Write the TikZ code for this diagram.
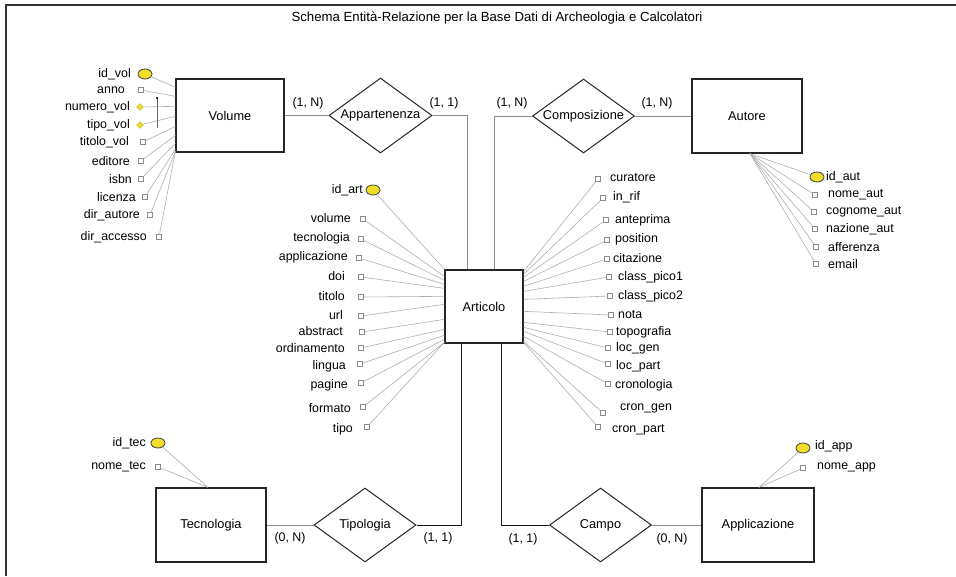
\documentclass[tikz,border=0pt]{standalone}
\usepackage{fontspec}
\setmainfont{Liberation Sans}
\usetikzlibrary{shapes.geometric, calc}

\definecolor{keyyel}{RGB}{240,222,40}
\definecolor{lnkgray}{RGB}{175,175,175}

\tikzset{
  ent/.style={draw=black!85, line width=1.3pt, minimum height=73pt, inner sep=0pt, font=\fontsize{12.8}{14}\selectfont},
  rel/.style={diamond, aspect=1.37, draw=black!85, line width=1pt, minimum width=102pt, minimum height=74pt, inner sep=0pt, font=\fontsize{12.8}{14}\selectfont},
  attr/.style={draw=black!45, fill=white, minimum size=5.5pt, inner sep=0pt, line width=0.6pt},
  pkey/.style={ellipse, draw=black!75, fill=keyyel, minimum width=14pt, minimum height=10pt, inner sep=0pt, line width=0.8pt},
  ckey/.style={diamond, fill=keyyel, draw=keyyel!80!black, minimum size=7pt, inner sep=0pt},
  lbl/.style={inner sep=0pt, font=\fontsize{12.4}{14}\selectfont},
  card/.style={inner sep=0pt, font=\fontsize{12.4}{14}\selectfont},
  lnk/.style={draw=lnkgray, line width=0.6pt},
  glink/.style={draw=black!45, line width=0.9pt},
  blink/.style={draw=black!90, line width=1pt}
}

\begin{document}
\begin{tikzpicture}[x=1pt, y=-1pt]
\useasboundingbox (0,0) rectangle (956,576);
\draw[line width=1.6pt, black!80] (956,5) -- (6,5) -- (6,576);
\node[lbl, font=\fontsize{13.2}{15}\selectfont] (title) at (497,18) {Schema Entità-Relazione per la Base Dati di Archeologia e Calcolatori};

% entities
\node[ent, minimum width=108pt] (vol) at (230,115.5) {Volume};
\node[ent, minimum width=78pt] (art) at (484,306.5) {Articolo};
\node[ent, minimum width=110pt, minimum height=74pt] (aut) at (747,116) {Autore};
\node[ent, minimum width=110pt, minimum height=74pt] (tec) at (211,525) {Tecnologia};
\node[ent, minimum width=112pt, minimum height=74pt] (app) at (758,525) {Applicazione};

% relationships
\node[rel, minimum width=103pt, minimum height=75pt] (appart) at (380.5,115.5) {Appartenenza};
\node[rel] (compo) at (583.5,116) {Composizione};
\node[rel] (tipol) at (365,525) {Tipologia};
\node[rel] (campo) at (600.5,525) {Campo};

\draw[glink] (vol.east) -- (appart.west);
\draw[glink] (appart.east) -| ($(art.north west)+(23,0)$);
\draw[glink] (compo.west) -| ($(art.north west)+(50,0)$);
\draw[glink] (compo.east) -- (aut.west);
\draw[glink] (tec.east) -- (tipol.west);
\draw[blink] (tipol.east) -| ($(art.south west)+(17,0)$);
\draw[blink] (campo.west) -| ($(art.south west)+(57,0)$);
\draw[glink] (campo.east) -- (app.west);

\node[card] (c1) at (308,103) {(1, N)};
\node[card] (c2) at (444,103) {(1, 1)};
\node[card] (c3) at (512,103) {(1, N)};
\node[card] (c4) at (657,103) {(1, N)};
\node[card] (c5) at (290,538) {(0, N)};
\node[card] (c6) at (438,538) {(1, 1)};
\node[card] (c7) at (523,539) {(1, 1)};
\node[card] (c8) at (672,539) {(0, N)};

% Volume
\node[pkey] (k-vol) at (145,74) {};
\node[lbl, anchor=east] (l-vol) at (131,74) {id\_vol};
\draw[lnk] (k-vol) -- ($(vol.north west)+(0,9)$);
\node[ckey] (k-num) at (140,107) {};
\node[lbl, anchor=east] (l-num) at (130,107) {numero\_vol};
\draw[lnk] (k-num) -- ($(vol.north west)+(0,28)$);
\node[ckey] (k-tip) at (140,125) {};
\node[lbl, anchor=east] (l-tip) at (130,125) {tipo\_vol};
\draw[lnk] (k-tip) -- ($(vol.north west)+(0,38)$);
\draw[black!60, line width=0.8pt] (157,98) -- (157,128);
\fill (157,98) circle (1.2);
\foreach \n/\t/\mx/\my/\lx/\dy in {ann/anno/141/90/125/18, tit/titolo\_vol/143/142/129/48,
    edi/editore/141/161/130/57, isb/isbn/141/179/132/65, lic/licenza/145/197/136/71,
    dau/dir\_autore/150/215/140/73, dac/dir\_accesso/159/237/147/73} {
  \node[attr] (v-\n) at (\mx,\my) {};
  \node[lbl, anchor=east] (vl-\n) at (\lx,\my) {\t};
  \draw[lnk] (v-\n) -- ($(vol.north west)+(0,\dy)$);
}

% Articolo
\node[pkey] (k-art) at (373,190) {};
\node[lbl, anchor=east] (l-art) at (363,190) {id\_art};
\draw[lnk] (k-art) -- (art.north west);
\foreach \n/\t/\mx/\my/\lx/\ly/\dy in {vol/volume/363/219/351/218/7, tec/tecnologia/361/239/350/238/11,
    app/applicazione/359/258/348/257/15, doi/doi/361/277/345/276/19, tit/titolo/361/297/345/296/27,
    url/url/361/316/343/315/35, abs/abstract/362/332/343/331/50, ord/ordinamento/361/348/345/348/60,
    lin/lingua/360/364/346/366/66, pag/pagine/361/383/348/385/70, frm/formato/363/407/351/408/73,
    tip/tipo/367/427/353/429/73} {
  \node[attr] (al-\n) at (\mx,\my) {};
  \node[lbl, anchor=east] (all-\n) at (\lx,\ly) {\t};
  \draw[lnk] (al-\n) -- ($(art.north west)+(0,\dy)$);
}
\foreach \n/\t/\mx/\my/\lx/\ly/\dy in {cur/curatore/598/179/610/178/2, rif/in\_rif/603/198/613/197/5,
    ant/anteprima/606/220/615/220/8, pos/position/607/240/615/239/12, cit/citazione/607/259/613/258/17,
    cp1/class\_pico1/609/277/618/277/22, cp2/class\_pico2/610/296/618/296/30, not/nota/611/315/618/315/42,
    top/topografia/610/332/616/332/53, lg/loc\_gen/608/348/616/348/58, lp/loc\_part/608/364/616/366/62,
    cro/cronologia/608/384/615/385/67, cg/cron\_gen/603/413/620/408/72, cpa/cron\_part/598/427/612/430/73} {
  \node[attr] (ar-\n) at (\mx,\my) {};
  \node[lbl, anchor=west] (arl-\n) at (\lx,\ly) {\t};
  \draw[lnk] (ar-\n) -- ($(art.north east)+(0,\dy)$);
}

% Autore
\coordinate (aut-hub) at ($(aut.south)+(3,0)$);
\node[pkey] (k-aut) at (817,177) {};
\node[lbl, anchor=west] (l-aut) at (826,177) {id\_aut};
\draw[lnk] (aut-hub) -- (k-aut);
\foreach \n/\t/\mx/\my/\lx in {nom/nome\_aut/815/195/828, cog/cognome\_aut/814/212/826,
    naz/nazione\_aut/815/229/826, aff/afferenza/816/247/828, ema/email/816/264/828} {
  \node[attr] (u-\n) at (\mx,\my) {};
  \node[lbl, anchor=west] (ul-\n) at (\lx,\my) {\t};
  \draw[lnk] (aut-hub) -- (u-\n);
}

% Tecnologia
\coordinate (tec-hub) at ($(tec.north)+(-3,0)$);
\node[pkey] (k-tec) at (158,443) {};
\node[lbl, anchor=east] (l-tec) at (146,443) {id\_tec};
\node[attr] (t-nom) at (158,467) {};
\node[lbl, anchor=east] (tl-nom) at (146,467) {nome\_tec};
\draw[lnk] (tec-hub) -- (k-tec);
\draw[lnk] (tec-hub) -- (t-nom);

% Applicazione
\coordinate (app-hub) at ($(app.north)+(1,0)$);
\node[pkey] (k-app) at (803,448) {};
\node[lbl, anchor=west] (l-app) at (815,446) {id\_app};
\node[attr] (p-nom) at (803,468) {};
\node[lbl, anchor=west] (pl-nom) at (817,467) {nome\_app};
\draw[lnk] (app-hub) -- (k-app);
\draw[lnk] (app-hub) -- (p-nom);
\end{tikzpicture}
\end{document}
